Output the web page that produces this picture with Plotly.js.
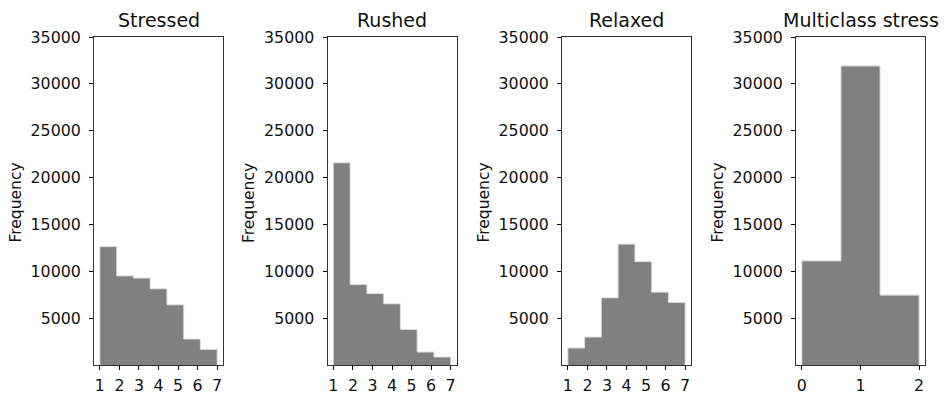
<!DOCTYPE html>
<html>
<head>
<meta charset="utf-8">
<script src="https://cdn.plot.ly/plotly-3.0.1.min.js"></script>
<style>html,body{margin:0;padding:0;background:#fff}#chart{width:945px;height:394px}</style>
</head>
<body>
<div id="chart"></div>
<script>
// Panel titles
const panelTitles = ["Stressed", "Rushed", "Relaxed", "Multiclass stress"];
const yLabel = "Frequency";
// Histogram counts per bin
const stressedCounts = [12630, 9510, 9270, 8130, 6420, 2770, 1660];
const rushedCounts   = [21580, 8580, 7620, 6530, 3790, 1380, 850];
const relaxedCounts  = [1810, 2980, 7170, 12890, 11030, 7770, 6670];
const multiclassCounts = [11110, 31910, 7450];
// Value ranges of the histogram (min, max) for each panel
const panelMin = [1, 1, 1, 0];
const panelMax = [7, 7, 7, 2];
// Tick labels
const likertTicks = [1, 2, 3, 4, 5, 6, 7];
const classTicks = [0, 1, 2];
const yTicks = [5000, 10000, 15000, 20000, 25000, 30000, 35000];

const allCounts = [stressedCounts, rushedCounts, relaxedCounts, multiclassCounts];
const allXTicks = [likertTicks, likertTicks, likertTicks, classTicks];

const W = 945, H = 394;
const leftPx = [94, 327.5, 562, 796];
const plotW = 129;
const topPx = 37, botPx = 365;

const font = "DejaVu Sans, sans-serif";
const traces = [];
const layout = {
  width: W, height: H,
  margin: {l: 0, r: 0, t: 0, b: 0},
  paper_bgcolor: "#fff", plot_bgcolor: "#fff",
  showlegend: false,
  bargap: 0,
  font: {family: font, color: "#000", size: 15},
  annotations: []
};

allCounts.forEach((counts, i) => {
  const n = counts.length;
  const lo = panelMin[i], hi = panelMax[i];
  const w = (hi - lo) / n;
  const xs = counts.map((_, k) => lo + w * (k + 0.5));
  const sfx = i === 0 ? "" : String(i + 1);
  traces.push({
    type: "bar",
    x: xs, y: counts, width: counts.map(() => w),
    xaxis: "x" + sfx, yaxis: "y" + sfx,
    marker: {color: "#808080", line: {width: 0}},
    hoverinfo: "x+y"
  });
  // light outline of the histogram (edge of the bars)
  const ox = [lo], oy = [0];
  counts.forEach((c, k) => { ox.push(lo + w * k); oy.push(c); ox.push(lo + w * (k + 1)); oy.push(c); });
  ox.push(hi); oy.push(0);
  traces.push({
    type: "scatter", mode: "lines", x: ox, y: oy,
    xaxis: "x" + sfx, yaxis: "y" + sfx,
    line: {color: "rgba(215,215,215,1)", width: 1}, hoverinfo: "skip"
  });
  const pad = (hi - lo) * 0.05;
  layout["xaxis" + sfx] = {
    domain: [leftPx[i] / W, (leftPx[i] + plotW) / W],
    anchor: "y" + sfx,
    range: [lo - pad, hi + pad],
    tickmode: "array", tickvals: allXTicks[i], ticktext: allXTicks[i].map(String),
    ticks: "outside", ticklen: 4, tickwidth: 1, tickcolor: "#000",
    ticklabelstandoff: 2,
    showline: true, linecolor: "#333", linewidth: 1, mirror: true,
    showgrid: false, zeroline: false,
    tickfont: {family: font, size: 15.8, color: "#111"}
  };
  layout["yaxis" + sfx] = {
    domain: [(H - botPx) / H, (H - topPx) / H],
    anchor: "x" + sfx,
    range: [0, 35000],
    tickmode: "array", tickvals: yTicks, ticktext: yTicks.map(String),
    ticks: "outside", ticklen: 4, tickwidth: 1, tickcolor: "#000",
    ticklabelstandoff: 5,
    showline: true, linecolor: "#333", linewidth: 1, mirror: true,
    showgrid: false, zeroline: false,
    tickfont: {family: font, size: 15.8, color: "#111"}
  };
  layout.annotations.push({
    text: panelTitles[i], xref: "paper", yref: "paper",
    x: (leftPx[i] + plotW / 2) / W, y: (H - 20) / H,
    xanchor: "center", yanchor: "middle", showarrow: false,
    font: {family: font, size: 19, color: "#111"}
  });
  layout.annotations.push({
    text: yLabel, xref: "paper", yref: "paper", textangle: -90,
    x: (leftPx[i] - 78.5) / W, y: (H - 203) / H,
    xanchor: "center", yanchor: "middle", showarrow: false,
    font: {family: font, size: 15.5, color: "#111"}
  });
});

Plotly.newPlot("chart", traces, layout, {displayModeBar: false, staticPlot: true});
</script>
</body>
</html>
